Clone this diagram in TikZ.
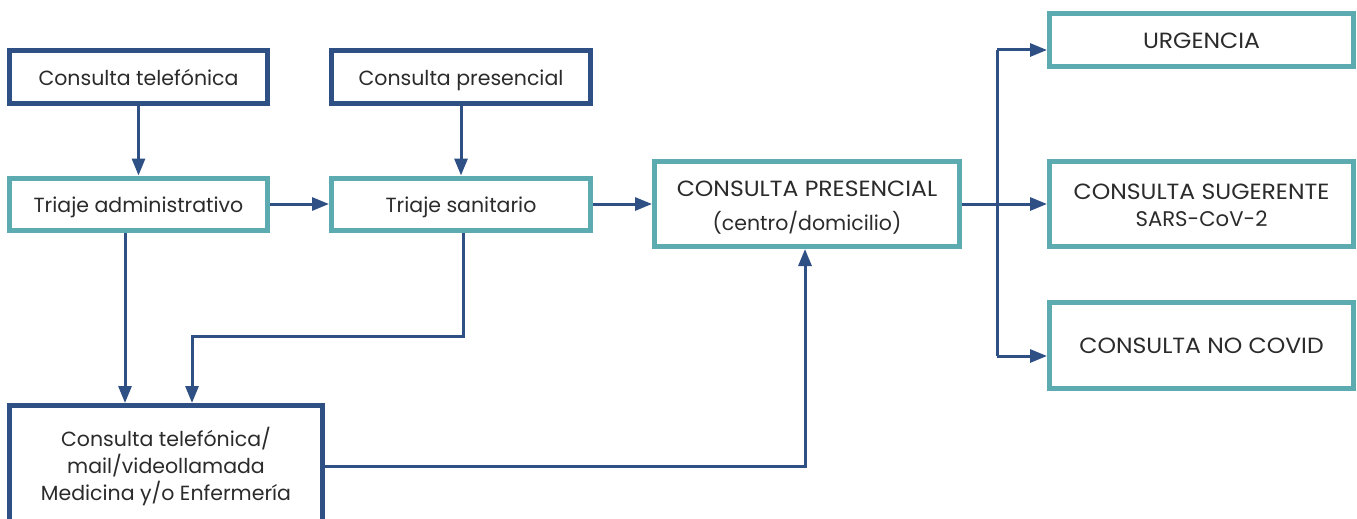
\documentclass[tikz,border=0pt]{standalone}
\usepackage{fontspec}
\setmainfont{Poppins}
\newfontfamily\capsfont[FakeStretch=1.07]{Poppins}
\usetikzlibrary{arrows.meta}
\definecolor{dblue}{HTML}{2F5085}
\definecolor{teal2}{HTML}{5BABB0}
\definecolor{txt}{HTML}{2B2B2B}
\newcommand{\lowtxt}[2][-3pt]{\raisebox{#1}[\height][\depth]{\begin{tabular}{@{}c@{}}#2\end{tabular}}}
\newcommand{\caps}[1]{{\capsfont\fontsize{22}{26}\selectfont #1}}
\begin{document}
\begin{tikzpicture}[x=1pt,y=-1pt,
  box/.style={draw, line width=5pt, fill=white, text=txt, inner sep=0pt,
    font=\fontsize{20.5}{26}\selectfont},
  dbox/.style={box, draw=dblue},
  tbox/.style={box, draw=teal2},
  arr/.style={draw=dblue, line width=3pt, -{Triangle[length=17pt,width=13pt]}},
  ln/.style={draw=dblue, line width=3pt}]
\clip (0,0) rectangle (1357,519);
\fill[white] (0,0) rectangle (1357,519);
\node[dbox, minimum width=258pt, minimum height=53pt] (tel) at (138.5,77) {\lowtxt{Consulta telefónica}};
\node[dbox, minimum width=259pt, minimum height=53pt] (pres) at (461,77) {\lowtxt{Consulta presencial}};
\node[tbox, minimum width=258pt, minimum height=52pt] (tadm) at (138.5,204) {\lowtxt{Triaje administrativo}};
\node[tbox, minimum width=259pt, minimum height=52pt] (tsan) at (461,204) {\lowtxt{Triaje sanitario}};
\node[tbox, minimum width=305pt, minimum height=85pt, font=\fontsize{20.5}{34}\selectfont] (cp) at (807,204) {\lowtxt{\caps{CONSULTA PRESENCIAL}\\(centro/domicilio)}};
\node[tbox, minimum width=304pt, minimum height=53pt] (urg) at (1201.5,40) {\lowtxt{\caps{URGENCIA}}};
\node[tbox, minimum width=304pt, minimum height=85pt, font=\fontsize{20.5}{27}\selectfont] (sug) at (1201.5,204) {\lowtxt[-4pt]{\caps{CONSULTA SUGERENTE}\\{\fontsize{21.2}{27}\selectfont SARS-CoV-2}}};
\node[tbox, minimum width=304pt, minimum height=86pt] (noc) at (1201.5,345.5) {\lowtxt{\caps{CONSULTA NO COVID}}};
\node[dbox, minimum width=313pt, minimum height=121pt] (tm) at (166,466) {\lowtxt[-1.5pt]{Consulta telefónica/\\mail/videollamada\\Medicina y/o Enfermería}};
\draw[arr] (tel) -- (tadm);
\draw[arr] (pres) -- (tsan);
\draw[arr] (tadm) -- (tsan);
\draw[arr] (tsan) -- (cp);
\draw[arr] (cp) -- (sug);
\coordinate (bt) at (997,50);
\coordinate (bb) at (997,356);
\draw[ln] (bt) -- (bb);
\draw[arr] (bt) -- (bt -| urg.west);
\draw[arr] (bb) -- (bb -| noc.west);
\draw[arr] ([xshift=-13.5pt]tadm.south) -- ([xshift=-13.5pt]tadm.south |- tm.north);
\draw[arr] ([xshift=2pt]tsan.south) -- ++(0,104) -| ([xshift=26pt]tm.north);
\draw[arr] (tm.east) -| ([xshift=-2pt]cp.south);
\end{tikzpicture}
\end{document}
